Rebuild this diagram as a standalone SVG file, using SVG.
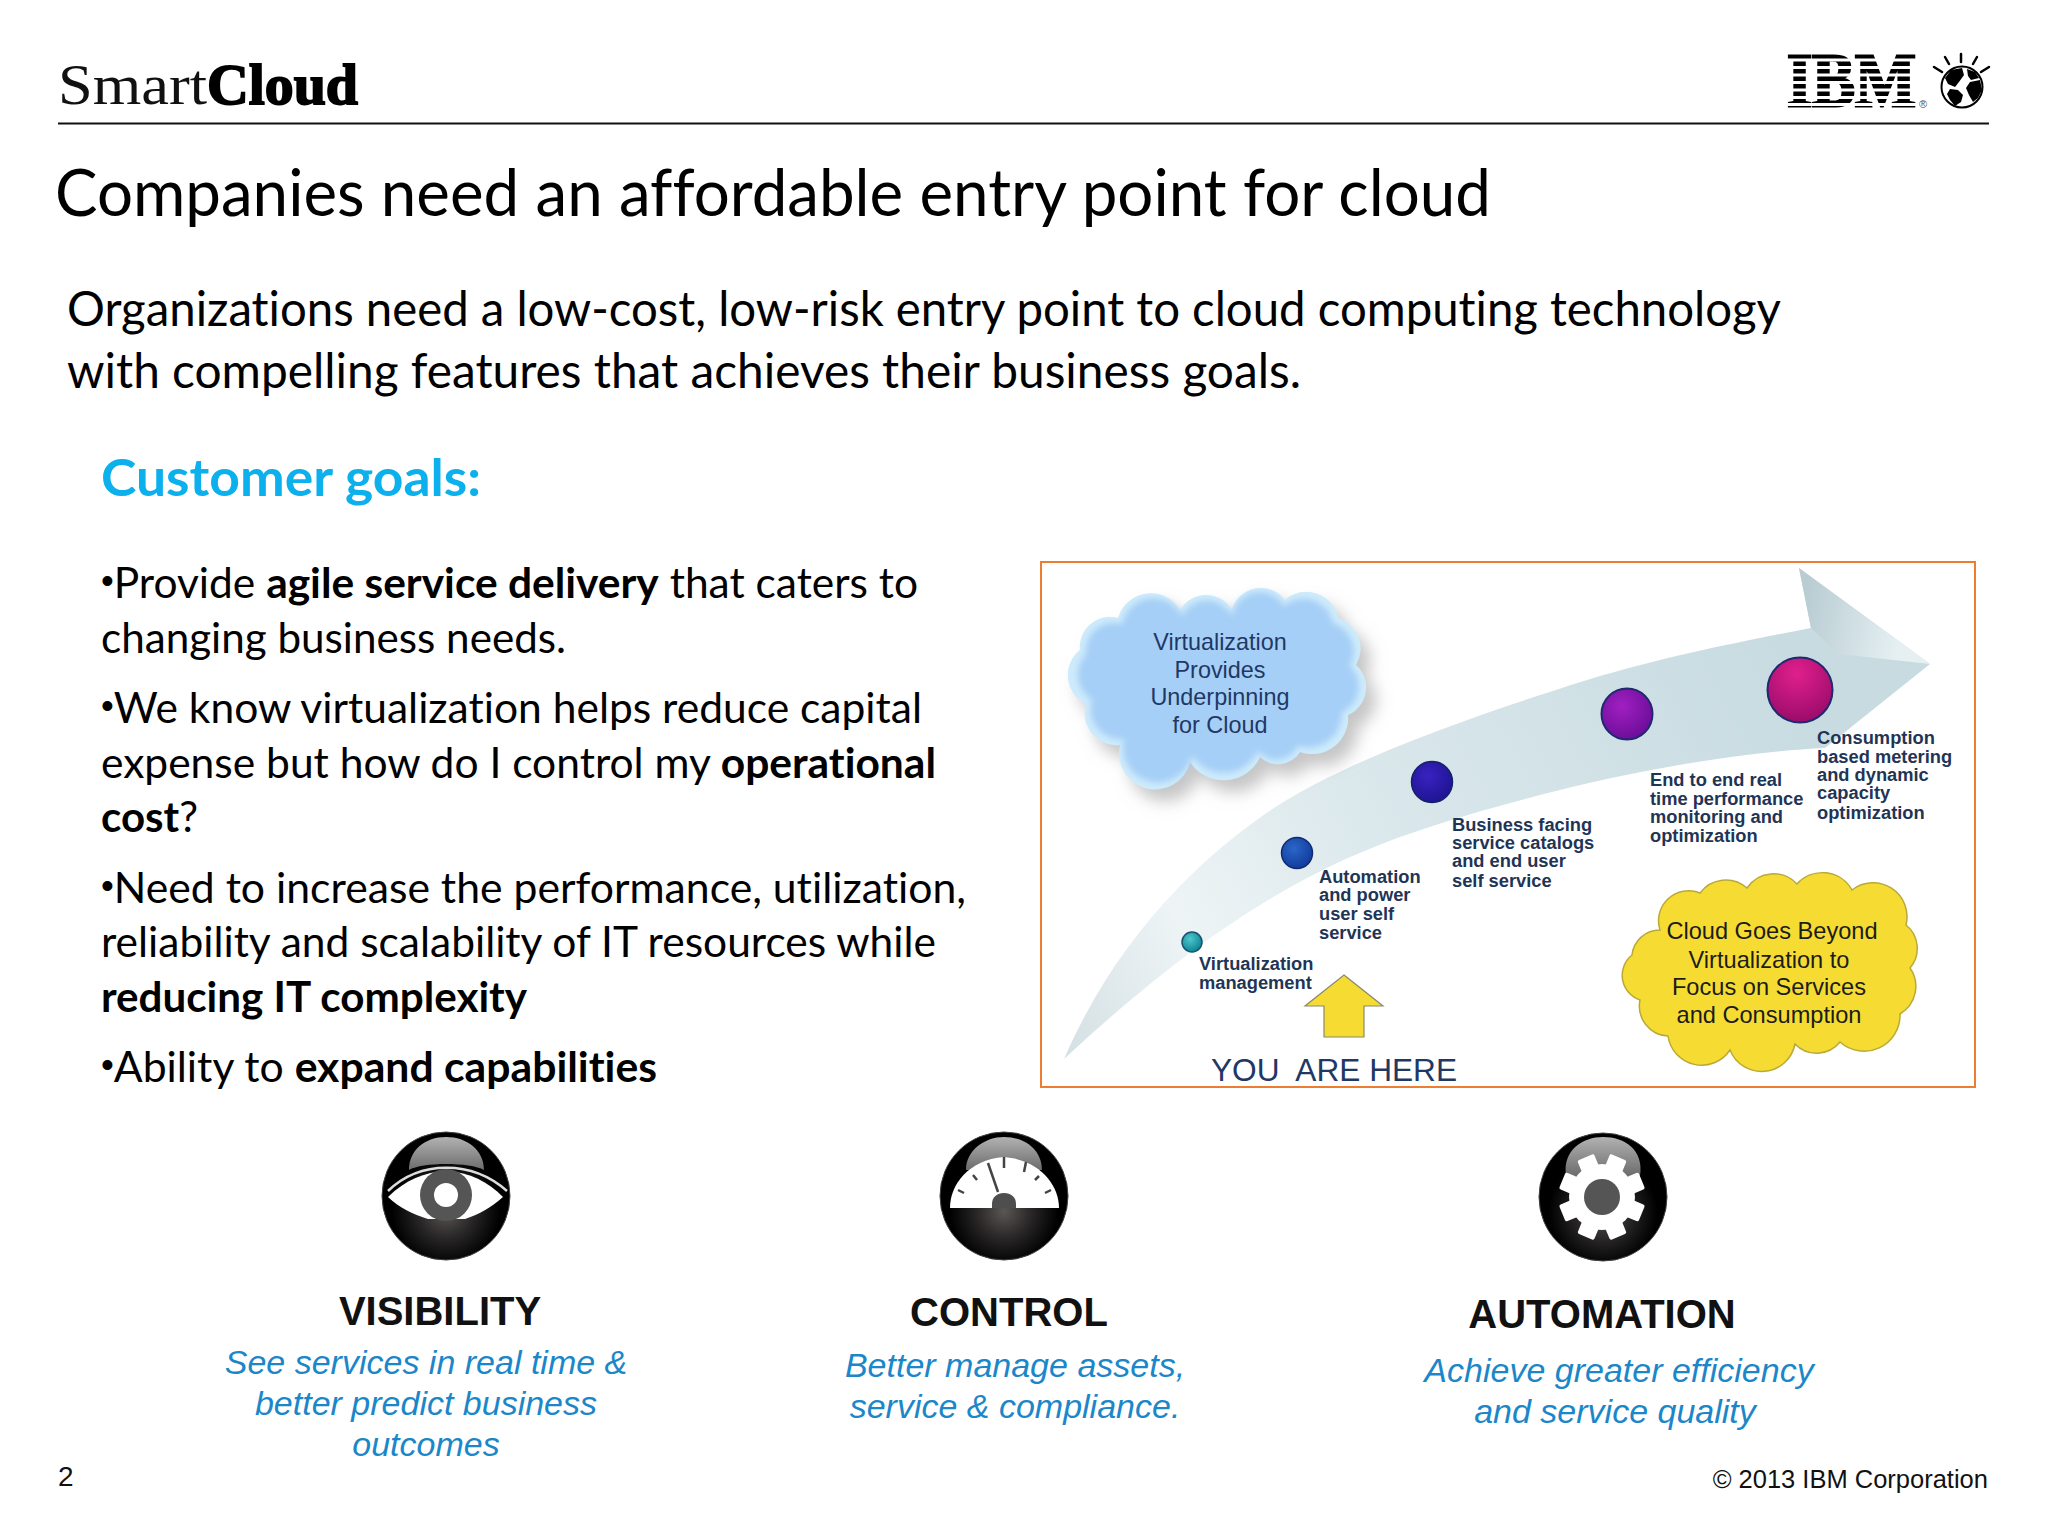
<svg xmlns="http://www.w3.org/2000/svg" width="2048" height="1536" viewBox="0 0 2048 1536">
<defs>
<style>
text{font-variant-ligatures:none}
.body{font-family:"Lato","Carlito","Liberation Sans",sans-serif;fill:#000}
.b{font-weight:700}
.dot{font-family:"Liberation Sans",sans-serif;font-size:36px;font-weight:400}
.arial{font-family:"Liberation Sans","Arial",sans-serif}
.head{font-size:40px;font-weight:700;fill:#111;text-anchor:middle}
.it{font-size:34px;font-style:italic;fill:#1B87C9;text-anchor:middle}
.lbl{font-size:18.3px;font-weight:700;fill:#1F3556}
.cl{font-size:23.4px;fill:#1F3864;text-anchor:middle}
.cy{font-size:23.6px;fill:#1c1c1c;text-anchor:middle}
</style>
<linearGradient id="arrowFill" gradientUnits="userSpaceOnUse" x1="1064" y1="1059" x2="1800" y2="660">
<stop offset="0" stop-color="#d4e0e4"/><stop offset="0.2" stop-color="#eef4f6"/><stop offset="0.45" stop-color="#dbe8ec"/><stop offset="1" stop-color="#c7dbe1"/>
</linearGradient>
<linearGradient id="headShade" gradientUnits="userSpaceOnUse" x1="1800" y1="620" x2="1900" y2="640">
<stop offset="0" stop-color="#b8ccd2"/><stop offset="1" stop-color="#e6f0f3"/>
</linearGradient>
<radialGradient id="sTeal" cx="0.4" cy="0.35" r="0.7"><stop offset="0" stop-color="#4cc8cc"/><stop offset="1" stop-color="#0c7f93"/></radialGradient>
<radialGradient id="sBlue" cx="0.4" cy="0.35" r="0.7"><stop offset="0" stop-color="#2a66c8"/><stop offset="1" stop-color="#103a9a"/></radialGradient>
<radialGradient id="sIndigo" cx="0.4" cy="0.35" r="0.7"><stop offset="0" stop-color="#3a22c0"/><stop offset="1" stop-color="#1c1490"/></radialGradient>
<radialGradient id="sPurple" cx="0.4" cy="0.35" r="0.7"><stop offset="0" stop-color="#a020c0"/><stop offset="1" stop-color="#6a0c98"/></radialGradient>
<radialGradient id="sPink" cx="0.45" cy="0.25" r="0.8"><stop offset="0" stop-color="#e0208c"/><stop offset="1" stop-color="#960a68"/></radialGradient>
<filter id="cloudShadow" x="-20%" y="-20%" width="150%" height="150%">
<feGaussianBlur in="SourceAlpha" stdDeviation="8"/><feOffset dx="10" dy="12"/><feColorMatrix type="matrix" values="0 0 0 0 0.45 0 0 0 0 0.45 0 0 0 0 0.45 0 0 0 0.75 0"/>
<feMerge><feMergeNode/><feMergeNode in="SourceGraphic"/></feMerge>
</filter>
<filter id="soft" x="-10%" y="-10%" width="120%" height="120%"><feGaussianBlur stdDeviation="3"/></filter>
<radialGradient id="ballBase" gradientUnits="objectBoundingBox" cx="0.5" cy="0.62" r="0.5">
<stop offset="0" stop-color="#5a5654"/><stop offset="0.45" stop-color="#262424"/><stop offset="0.85" stop-color="#000"/><stop offset="1" stop-color="#000"/>
</radialGradient>
<linearGradient id="glass" x1="0" y1="0" x2="0" y2="1"><stop offset="0" stop-color="#b2b2b2"/><stop offset="1" stop-color="#6c6c6c"/></linearGradient>
<rect id="tooth" x="-9" y="-43" width="18" height="16" rx="2" fill="#fff"/>
</defs>
<rect width="2048" height="1536" fill="#fff"/>

<g id="header">
<text x="58" y="104" font-family="'Liberation Serif',serif" font-size="58" textLength="149" lengthAdjust="spacingAndGlyphs" fill="#111">Smart</text>
<text x="207" y="104" font-family="'Liberation Serif',serif" font-weight="700" font-size="58" textLength="151" lengthAdjust="spacingAndGlyphs" fill="#000" stroke="#000" stroke-width="1.800">Cloud</text>
<line x1="58" y1="123.500" x2="1989" y2="123.500" stroke="#111" stroke-width="2"/>
</g>

<g id="ibm-logo">
<text x="1787" y="106" font-family="'Liberation Serif',serif" font-weight="700" font-size="76" textLength="129" lengthAdjust="spacingAndGlyphs" fill="#000" stroke="#000" stroke-width="3">IBM</text>
<g fill="#fff"><rect x="1780" y="58.500" width="142" height="3"/><rect x="1780" y="66" width="142" height="3"/><rect x="1780" y="73.500" width="142" height="3"/><rect x="1780" y="81" width="142" height="3"/><rect x="1780" y="88.500" width="142" height="3"/><rect x="1780" y="96" width="142" height="3"/><rect x="1780" y="103" width="142" height="3"/></g>
<text x="1919" y="108" font-family="'Liberation Sans',sans-serif" font-size="11" fill="#555">®</text>
<g stroke="#000" stroke-width="2.500" stroke-linecap="round"><line x1="1961" y1="54" x2="1961" y2="62"/><line x1="1945" y1="57" x2="1949" y2="64"/><line x1="1977" y1="57" x2="1973" y2="64"/><line x1="1934" y1="67" x2="1942" y2="72"/><line x1="1989" y1="67" x2="1981" y2="72"/></g>
<circle cx="1962" cy="87" r="20.500" fill="#fff" stroke="#000" stroke-width="2"/>
<g fill="#000"><path d="M1951 70 L1962 68 L1964 75 L1959 82 L1955 87 L1948 84 L1945 78Z"/><path d="M1950 89 L1958 90 L1963 95 L1961 102 L1955 106 L1950 100 L1947 94Z"/><path d="M1970 82 L1980 80 L1982 90 L1978 98 L1973 102 L1969 95 L1966 88Z"/><path d="M1967 69 L1975 72 L1979 78 L1971 80 L1968 76Z"/></g>
</g>

<g id="title">
<text class="body" x="55" y="216" font-size="65" textLength="1436" lengthAdjust="spacingAndGlyphs">Companies need an affordable entry point for cloud</text>
</g>

<g id="intro">
<text class="body" x="67" y="326" font-size="48" textLength="1714" lengthAdjust="spacingAndGlyphs">Organizations need a low-cost, low-risk entry point to cloud computing technology</text>
<text class="body" x="67" y="388" font-size="48" textLength="1234" lengthAdjust="spacingAndGlyphs">with compelling features that achieves their business goals.</text>
</g>

<g id="goals">
<text class="body b" x="101" y="496" font-size="52" textLength="380" lengthAdjust="spacingAndGlyphs" style="fill:#0BB0EC">Customer goals:</text>
<g font-size="42">
<text class="body" x="101" y="598" textLength="817" lengthAdjust="spacingAndGlyphs"><tspan class="dot" dy="-5">•</tspan><tspan dy="5">Provide </tspan><tspan class="b">agile service delivery</tspan> that caters to</text>
<text class="body" x="101" y="653" textLength="465" lengthAdjust="spacingAndGlyphs">changing business needs.</text>
<text class="body" x="101" y="723" textLength="821" lengthAdjust="spacingAndGlyphs"><tspan class="dot" dy="-5">•</tspan><tspan dy="5">We know virtualization helps reduce capital</tspan></text>
<text class="body" x="101" y="778" textLength="835" lengthAdjust="spacingAndGlyphs">expense but how do I control my <tspan class="b">operational</tspan></text>
<text class="body" x="101" y="832" textLength="97" lengthAdjust="spacingAndGlyphs"><tspan class="b">cost</tspan>?</text>
<text class="body" x="101" y="903" textLength="865" lengthAdjust="spacingAndGlyphs"><tspan class="dot" dy="-5">•</tspan><tspan dy="5">Need to increase the performance, utilization,</tspan></text>
<text class="body" x="101" y="957" textLength="835" lengthAdjust="spacingAndGlyphs">reliability and scalability of IT resources while</text>
<text class="body b" x="101" y="1012" textLength="426" lengthAdjust="spacingAndGlyphs">reducing IT complexity</text>
<text class="body" x="101" y="1082" textLength="556" lengthAdjust="spacingAndGlyphs"><tspan class="dot" dy="-5">•</tspan><tspan dy="5">Ability to </tspan><tspan class="b">expand capabilities</tspan></text>
</g>
</g>

<g id="chart">
<rect x="1041" y="562" width="934" height="525" fill="#fff" stroke="#ED7D31" stroke-width="2"/>
<g id="curve-arrow">
<path d="M1064 1059 C1120 930 1210 850 1277 806 C1350 760 1460 720 1587 680 C1670 655 1750 640 1811 628 L1799 568 L1930 664 L1825 748 C1740 752 1640 770 1560 790 C1460 815 1380 840 1315 874 C1240 912 1160 970 1064 1059Z" fill="url(#arrowFill)"/>
<path d="M1799 568 L1811 628 L1838 654 L1930 664Z" fill="url(#headShade)"/>
</g>
<g id="marker-1"><circle cx="1192" cy="942" r="10" fill="url(#sTeal)" stroke="#14546e" stroke-width="1.500"/></g>
<g id="marker-2"><circle cx="1297" cy="853" r="15.500" fill="url(#sBlue)" stroke="#102a70" stroke-width="1.500"/></g>
<g id="marker-3"><circle cx="1432" cy="782" r="20.500" fill="url(#sIndigo)" stroke="#14206a" stroke-width="1.500"/></g>
<g id="marker-4"><circle cx="1627" cy="714" r="25.500" fill="url(#sPurple)" stroke="#1e2a6e" stroke-width="2"/></g>
<g id="marker-5"><circle cx="1800" cy="690" r="32.500" fill="url(#sPink)" stroke="#1e2a6e" stroke-width="2"/></g>

<g id="label-1" class="arial lbl"><text x="1199" y="970">Virtualization</text><text x="1199" y="989">management</text></g>
<g id="label-2" class="arial lbl"><text x="1319" y="883">Automation</text><text x="1319" y="901">and power</text><text x="1319" y="920">user self</text><text x="1319" y="939">service</text></g>
<g id="label-3" class="arial lbl"><text x="1452" y="831">Business facing</text><text x="1452" y="849">service catalogs</text><text x="1452" y="867">and end user</text><text x="1452" y="887">self service</text></g>
<g id="label-4" class="arial lbl"><text x="1650" y="786">End to end real</text><text x="1650" y="805">time performance</text><text x="1650" y="823">monitoring and</text><text x="1650" y="842">optimization</text></g>
<g id="label-5" class="arial lbl"><text x="1817" y="744">Consumption</text><text x="1817" y="763">based metering</text><text x="1817" y="781">and dynamic</text><text x="1817" y="799">capacity</text><text x="1817" y="819">optimization</text></g>

<g id="cloud-blue">
<g filter="url(#cloudShadow)"><path d="M1080 650 A30 30 0 0 1 1118 618 A34 34 0 0 1 1180 610 A30 30 0 0 1 1232 610 A30 30 0 0 1 1285 600 A32 32 0 0 1 1338 618 A32 32 0 0 1 1356 665 A30 30 0 0 1 1348 715 A36 36 0 0 1 1300 752 A26 26 0 0 1 1260 757 A40 40 0 0 1 1190 762 A36 36 0 0 1 1120 745 A32 32 0 0 1 1086 704 A32 32 0 0 1 1080 650Z" fill="#CDEBFB"/></g>
<path d="M1086 654 A28 28 0 0 1 1122 624 A32 32 0 0 1 1182 616 A28 28 0 0 1 1232 616 A28 28 0 0 1 1284 606 A30 30 0 0 1 1333 623 A30 30 0 0 1 1350 666 A28 28 0 0 1 1342 712 A34 34 0 0 1 1298 746 A24 24 0 0 1 1258 751 A38 38 0 0 1 1192 756 A34 34 0 0 1 1124 739 A30 30 0 0 1 1092 700 A30 30 0 0 1 1086 654Z" fill="#A6CFF7" filter="url(#soft)"/>
<g class="arial cl"><text x="1220" y="650">Virtualization</text><text x="1220" y="678">Provides</text><text x="1220" y="705">Underpinning</text><text x="1220" y="733">for Cloud</text></g>
</g>

<g id="cloud-yellow">
<path d="M1660 930 A30 30 0 0 1 1700 893 A32 32 0 0 1 1747 888 A32 32 0 0 1 1797 884 A34 34 0 0 1 1852 890 A34 34 0 0 1 1906 925 A30 30 0 0 1 1910 968 A32 32 0 0 1 1900 1014 A36 36 0 0 1 1840 1042 A30 30 0 0 1 1795 1044 A34 34 0 0 1 1730 1050 A34 34 0 0 1 1668 1036 A30 30 0 0 1 1640 1000 A26 26 0 0 1 1632 955 A28 28 0 0 1 1660 930Z" fill="#F6DC32" stroke="#B9A938" stroke-width="1.500"/>
<g class="arial cy"><text x="1772" y="939">Cloud Goes Beyond</text><text x="1769" y="968">Virtualization to</text><text x="1769" y="995">Focus on Services</text><text x="1769" y="1023">and Consumption</text></g>
</g>

<g id="you-are-here">
<path d="M1344 975 L1383 1006 L1364 1006 L1364 1037 L1324 1037 L1324 1006 L1305 1006Z" fill="#F6DC32" stroke="#8a8a6a" stroke-width="1.200"/>
<text class="arial" x="1211" y="1081" font-size="32" fill="#1F3864" textLength="246" lengthAdjust="spacingAndGlyphs" xml:space="preserve">YOU  ARE HERE</text>
</g>
</g>

<g id="visibility">
<g id="icon-eye">
<circle cx="446" cy="1196" r="64" fill="url(#ballBase)" stroke="#444" stroke-width="1"/>
<path d="M409 1170 C409 1150 425 1137 446 1137 C467 1137 484 1150 484 1170 C470 1162 422 1162 409 1170Z" fill="url(#glass)"/>
<path d="M388 1191 C420 1160 472 1160 507 1191" fill="none" stroke="#ddd" stroke-width="2.500"/>
<path d="M388 1197 C405 1180 425 1172 446 1171 C470 1172 488 1182 503 1197 C490 1208 480 1214 465 1219 L428 1219 C412 1214 400 1208 388 1197Z" fill="#fff"/>
<circle cx="446" cy="1195" r="26" fill="#555"/>
<circle cx="446" cy="1195" r="12" fill="#fff"/>
</g>
<text class="arial head" x="440" y="1325">VISIBILITY</text>
<g class="arial it"><text x="426" y="1374">See services in real time &amp;</text><text x="426" y="1415">better predict business</text><text x="426" y="1456">outcomes</text></g>
</g>

<g id="control">
<g id="icon-gauge">
<circle cx="1004" cy="1196" r="64" fill="url(#ballBase)" stroke="#444" stroke-width="1"/>
<path d="M966 1170 C966 1150 985 1137 1004 1137 C1025 1137 1042 1150 1042 1170 L1034 1170 C1020 1158 990 1158 974 1170Z" fill="url(#glass)"/>
<path d="M950 1208 C950 1185 968 1160 1004 1157 C1040 1160 1059 1185 1059 1208Z" fill="#fff"/>
<path d="M992 1208 L992 1204 C992 1197 997 1193 1004 1193 C1011 1193 1016 1197 1016 1204 L1016 1208Z" fill="#4e4e4e"/>
<g stroke="#444" stroke-width="2.500" fill="none"><line x1="988" y1="1163" x2="998" y2="1192"/><line x1="1004" y1="1157" x2="1004" y2="1168"/><line x1="1026" y1="1162" x2="1024" y2="1172"/><line x1="973" y1="1175" x2="977" y2="1180"/><line x1="1039" y1="1176" x2="1035" y2="1180"/><line x1="958" y1="1190" x2="964" y2="1193"/><line x1="1051" y1="1190" x2="1045" y2="1193"/></g>
</g>
<text class="arial head" x="1009" y="1326">CONTROL</text>
<g class="arial it"><text x="1015" y="1377">Better manage assets,</text><text x="1015" y="1418">service &amp; compliance.</text></g>
</g>

<g id="automation">
<g id="icon-gear">
<circle cx="1603" cy="1197" r="64" fill="url(#ballBase)" stroke="#444" stroke-width="1"/>
<path d="M1566 1176 C1562 1150 1583 1137 1603 1137 C1625 1137 1644 1150 1640 1176 Z" fill="url(#glass)"/>
<g transform="translate(1602 1197)">
<circle r="33" fill="#fff"/>
<use href="#tooth" transform="rotate(22.500)"/><use href="#tooth" transform="rotate(67.500)"/><use href="#tooth" transform="rotate(112.500)"/><use href="#tooth" transform="rotate(157.500)"/><use href="#tooth" transform="rotate(202.500)"/><use href="#tooth" transform="rotate(247.500)"/><use href="#tooth" transform="rotate(292.500)"/><use href="#tooth" transform="rotate(337.500)"/>
<circle r="18" fill="#555"/>
</g>
</g>
<text class="arial head" x="1602" y="1328">AUTOMATION</text>
<g class="arial it"><text x="1619" y="1382">Achieve greater efficiency</text><text x="1615" y="1423">and service quality</text></g>
</g>

<g id="footer">
<text class="arial" x="58" y="1486" font-size="28" fill="#111">2</text>
<text class="arial" x="1988" y="1488" font-size="25.500" fill="#111" text-anchor="end">© 2013 IBM Corporation</text>
</g>
</svg>
